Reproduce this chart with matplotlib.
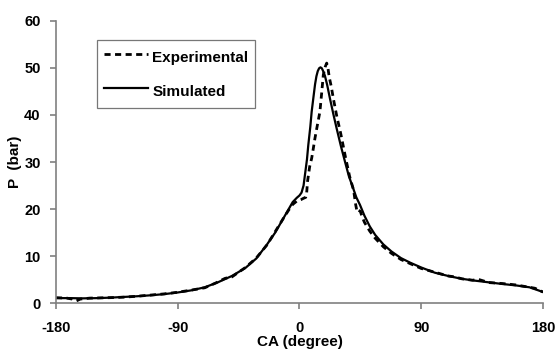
import matplotlib
matplotlib.use("Agg")
import matplotlib.pyplot as plt

plt.rcParams['font.family'] = ['Liberation Sans', 'DejaVu Sans']
plt.rcParams['font.weight'] = 'bold'
plt.rcParams['axes.unicode_minus'] = False

# crank angle (deg) vs cylinder pressure (bar)
ca_exp = [-180, -172, -168, -165, -162, -155, -140, -130, -120, -110, -100, -90,
          -80, -70, -62, -55, -50, -40, -32, -24, -18, -12, -8, -5, -2, 1, 3, 4.6,
          5.3, 6, 7.5, 9, 10, 11.4, 13, 15.1, 16.5, 17.6, 19, 20.1, 21, 22, 23.5,
          25, 27.5, 30.5, 34, 37, 40, 41.5, 42.5, 43.5, 45, 46, 48, 52, 56, 62, 68,
          75, 82, 90, 100, 110, 115, 120, 128, 132, 140, 150, 160, 168, 174, 180]
p_exp = [1.2, 1.1, 0.9, 0.5, 0.9, 1.1, 1.2, 1.3, 1.5, 1.75, 2.0, 2.35,
         2.8, 3.3, 4.3, 5.3, 5.6, 7.6, 9.6, 12.4, 15.2, 18.0, 19.8, 21.0, 21.7, 22.0,
         22.3, 22.5, 23.5, 26.0, 29.0, 30.8, 32.5, 35.0, 37.5, 40.7, 45.0, 48.5, 50.2,
         51.0, 50.0, 48.0, 46.0, 43.5, 39.8, 36.0, 31.0, 27.0, 24.0, 21.0, 19.5, 19.8,
         19.5, 18.6, 17.2, 15.3, 13.8, 12.0, 10.6, 9.3, 8.4, 7.4, 6.6, 5.8, 5.6, 5.2,
         4.9, 5.1, 4.4, 4.2, 3.9, 3.5, 3.2, 2.4]

ca_sim = [-180, -170, -160, -150, -140, -130, -120, -110, -100, -90, -80, -70,
          -60, -50, -40, -32, -24, -18, -12, -8, -5, -2, 0, 1.5, 3, 4, 5.5, 6.5, 8,
          9, 10.5, 11.5, 12.5, 13.5, 14.5, 15.5, 16.5, 17.5, 18.8, 20.5, 22.5, 25,
          27.4, 30.5, 33.6, 36.5, 39.7, 42, 44.7, 48, 52, 56, 62, 68, 75, 82, 90,
          100, 110, 120, 130, 140, 150, 160, 170, 175, 180]
p_sim = [1.1, 1.1, 1.05, 1.1, 1.2, 1.35, 1.5, 1.7, 1.95, 2.3, 2.75, 3.4,
         4.5, 5.8, 7.5, 9.5, 12.5, 15.0, 18.0, 20.0, 21.5, 22.4, 22.9, 23.5, 25.0,
         27.2, 30.5, 33.6, 37.5, 40.7, 44.2, 46.5, 48.2, 49.3, 49.9, 50.1, 49.9, 49.3,
         48.3, 46.3, 43.5, 40.2, 37.2, 33.5, 30.1, 27.0, 24.4, 22.5, 20.9, 18.6, 16.3,
         14.5, 12.5, 11.0, 9.6, 8.6, 7.6, 6.5, 5.8, 5.2, 4.8, 4.45, 4.1, 3.8, 3.4,
         2.9, 2.4]

fig = plt.figure(figsize=(5.57, 3.54), dpi=100)
ax = fig.add_axes([0.1005, 0.1432, 0.8744, 0.7983])

ax.plot(ca_exp, p_exp, color='black', lw=2, linestyle=(0, (2.2, 1.6)), label='Experimental')
ax.plot(ca_sim, p_sim, color='black', lw=1.6, label='Simulated')

ax.set_xlim(-180, 180)
ax.set_ylim(0, 60)
ax.set_xticks([-180, -90, 0, 90, 180])
ax.set_yticks(range(0, 61, 10))
ax.set_xlabel('CA (degree)', fontsize=11, fontweight='bold')
ax.set_ylabel('P  (bar)', fontsize=11, fontweight='bold')
ax.xaxis.set_label_coords(0.5, -0.112)
ax.yaxis.set_label_coords(-0.069, 0.5)

for s in ['top', 'right']:
    ax.spines[s].set_visible(False)
for s in ['left', 'bottom']:
    ax.spines[s].set_color('#808080')
    ax.spines[s].set_linewidth(1.2)
ax.tick_params(color='#808080', length=4, width=1.2, labelsize=10.5)
ax.tick_params(axis='y', pad=7)
ax.tick_params(axis='x', pad=9)

leg = ax.legend(loc='upper left', bbox_to_anchor=(0.0836, 0.9317), frameon=True, fancybox=False,
                edgecolor='#555555', fontsize=11, handlelength=2.9, handletextpad=0.3,
                handleheight=1.6, borderpad=0.45, labelspacing=0.95, borderaxespad=0)
leg.get_frame().set_linewidth(0.9)

fig.savefig('out.png', dpi=100)
